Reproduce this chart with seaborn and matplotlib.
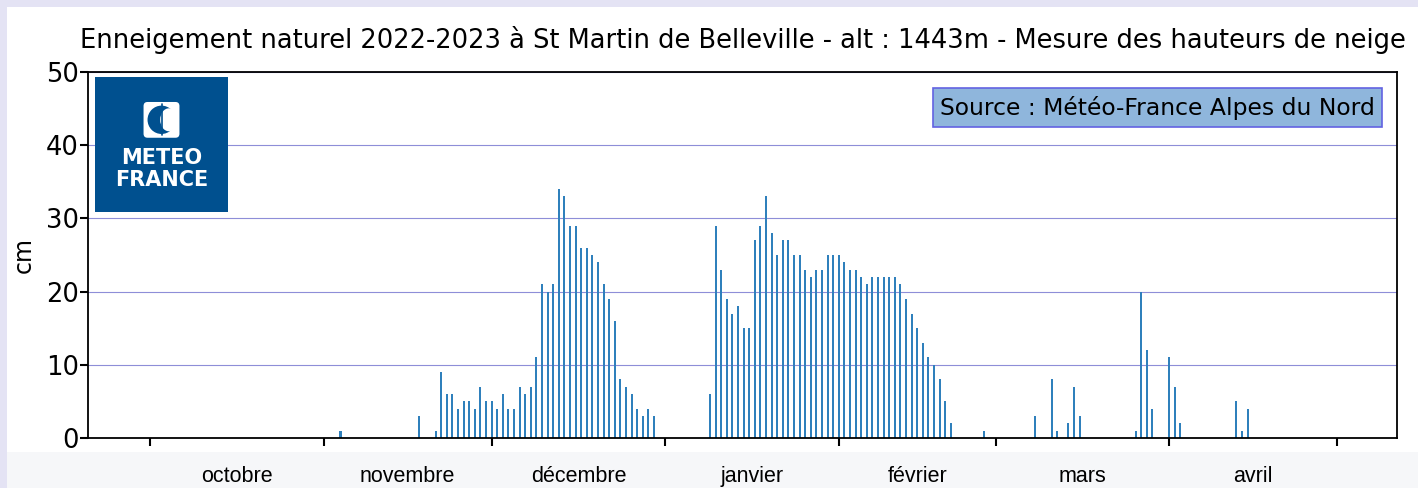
"""Enneigement naturel 2022-2023 a St Martin de Belleville - hauteurs de neige."""

import matplotlib
matplotlib.use("Agg")
import matplotlib.pyplot as plt
import matplotlib.dates as mdates
import matplotlib.transforms as mtransforms
from matplotlib.patches import Rectangle, FancyBboxPatch, Ellipse
import pandas as pd
import seaborn as sns

TITLE = ("Enneigement naturel 2022-2023 à St Martin de Belleville - alt : 1443m"
         " - Mesure des hauteurs de neige")
SOURCE = "Source : Météo-France Alpes du Nord"

# daily snow depth (cm), one list of days per month
nov_days = [4, 18, 21, 22, 23, 24, 25, 26, 27, 28, 29, 30]
nov_cm = [1, 3, 1, 9, 6, 6, 4, 5, 5, 4, 7, 5]
dec_days = list(range(1, 31))
dec_cm = [5, 4, 6, 4, 4, 7, 6, 7, 11, 21, 20, 21, 34, 33, 29, 29, 26, 26, 25, 24,
          21, 19, 16, 8, 7, 6, 4, 3, 4, 3]
jan_days = list(range(9, 32))
jan_cm = [6, 29, 23, 19, 17, 18, 15, 15, 27, 29, 33, 28, 25, 27, 27, 25, 25, 23,
          22, 23, 23, 25, 25]
feb_days = list(range(1, 22)) + [27]
feb_cm = [25, 24, 23, 23, 22, 21, 22, 22, 22, 22, 22, 21, 19, 17, 15, 13, 11, 10,
          8, 5, 2, 1]
mar_days = [8, 11, 12, 14, 15, 16, 26, 27, 28, 29]
mar_cm = [3, 8, 1, 2, 7, 3, 1, 20, 12, 4]
apr_days = [1, 2, 3, 13, 14, 15]
apr_cm = [11, 7, 2, 5, 1, 4]

month_names = ["octobre", "novembre", "décembre", "janvier", "février", "mars", "avril"]
month_starts = ["2022-10-01", "2022-11-01", "2022-12-01", "2023-01-01",
                "2023-02-01", "2023-03-01", "2023-04-01", "2023-05-01"]

W, H = 1418, 488
LAVENDER = "#e4e3f4"
STRIP = "#f6f7f9"
BAR = "#2f80bc"
GRID = "#8e8ed8"
LOGO = "#00508f"


def month_frame(year, month, days, cm):
    dates = [pd.Timestamp(year, month, d) for d in days]
    return pd.DataFrame({"date": dates, "cm": cm})


df = pd.concat([
    month_frame(2022, 11, nov_days, nov_cm),
    month_frame(2022, 12, dec_days, dec_cm),
    month_frame(2023, 1, jan_days, jan_cm),
    month_frame(2023, 2, feb_days, feb_cm),
    month_frame(2023, 3, mar_days, mar_cm),
    month_frame(2023, 4, apr_days, apr_cm),
], ignore_index=True)
df["x"] = mdates.date2num(df["date"])
tick_x = mdates.date2num(pd.to_datetime(month_starts))

sns.set_theme(style="ticks")
plt.rcParams["font.family"] = ["DejaVu Sans"]
for key in ["text.color", "axes.labelcolor", "xtick.color", "ytick.color"]:
    plt.rcParams[key] = "black"

fig = plt.figure(figsize=(W / 100, H / 100), dpi=100, facecolor=LAVENDER)
# white page area and the grey strip holding month names
fig.add_artist(Rectangle((7 / W, 36 / H), 1, (H - 7 - 36) / H, transform=fig.transFigure,
                         facecolor="white", edgecolor="none", zorder=-2))
fig.add_artist(Rectangle((7 / W, 0), 1, 36 / H, transform=fig.transFigure,
                         facecolor=STRIP, edgecolor="none", zorder=-2))

ax = fig.add_axes([88 / W, (H - 438) / H, (1397 - 88) / W, (438 - 72) / H])
ax.set_facecolor("white")

sns.barplot(data=df, x="x", y="cm", native_scale=True, width=0.36, color=BAR,
            saturation=1, errorbar=None, linewidth=0, ax=ax)

ax.set_xlim(tick_x[0] - 11.1, tick_x[-1] + 10.7)
ax.set_ylim(0, 50)
ax.set_yticks(range(0, 51, 10))
ax.set_xticks(tick_x)
ax.tick_params(axis="x", length=6, width=1.5, labelbottom=False)
ax.tick_params(axis="y", length=6, width=1.5, labelsize=18.5, pad=0.5)
ax.yaxis.grid(True, color=GRID, linewidth=0.8)
ax.set_axisbelow(True)
for sp in ax.spines.values():
    sp.set_visible(True)
    sp.set_linewidth(1.3)
    sp.set_color("black")

ax.set_xlabel("")
ax.set_ylabel("cm", fontsize=17)
ax.yaxis.set_label_coords(-0.040, 0.5)
ax.set_title(TITLE, fontsize=18.5, pad=17)

ax.text(0.8167, 0.903, SOURCE, transform=ax.transAxes, ha="center", va="center",
        fontsize=16.9, zorder=5,
        bbox=dict(boxstyle="square,pad=0.3", facecolor="#8fb6dc",
                  edgecolor="#6262e2", linewidth=1.2))

# Meteo-France logo
lax = fig.add_axes([95 / W, (H - 212) / H, 133 / W, 135 / H])
lax.set_facecolor(LOGO)
lax.set_xticks([])
lax.set_yticks([])
for sp in lax.spines.values():
    sp.set_visible(False)
lax.set_xlim(0, 1)
lax.set_ylim(0, 1)
lax.add_patch(FancyBboxPatch((0.365, 0.55), 0.27, 0.265,
                             boxstyle="round,pad=0,rounding_size=0.03",
                             facecolor="white", edgecolor="none"))
lax.add_patch(Ellipse((0.5, 0.683), 0.21, 0.21, facecolor=LOGO, edgecolor="none"))
lax.add_patch(Ellipse((0.555, 0.683), 0.13, 0.17, facecolor="white", edgecolor="none"))
lax.plot([0.5, 0.5], [0.57, 0.80], color=LOGO, linewidth=1.2)
lax.text(0.5, 0.40, "METEO", color="white", ha="center", va="center",
         fontsize=15, fontweight="bold")
lax.text(0.5, 0.235, "FRANCE", color="white", ha="center", va="center",
         fontsize=15, fontweight="bold")

# month names centred under each month, in the strip below the chart
trans = mtransforms.blended_transform_factory(ax.transData, fig.transFigure)
for name, a, b in zip(month_names, tick_x[:-1], tick_x[1:]):
    fig.text((a + b) / 2, 6 / H, name, transform=trans, ha="center", va="baseline",
             fontsize=15.5, family=["Liberation Sans", "DejaVu Sans"], color="black")

fig.savefig("out.png", dpi=100, facecolor=fig.get_facecolor())
